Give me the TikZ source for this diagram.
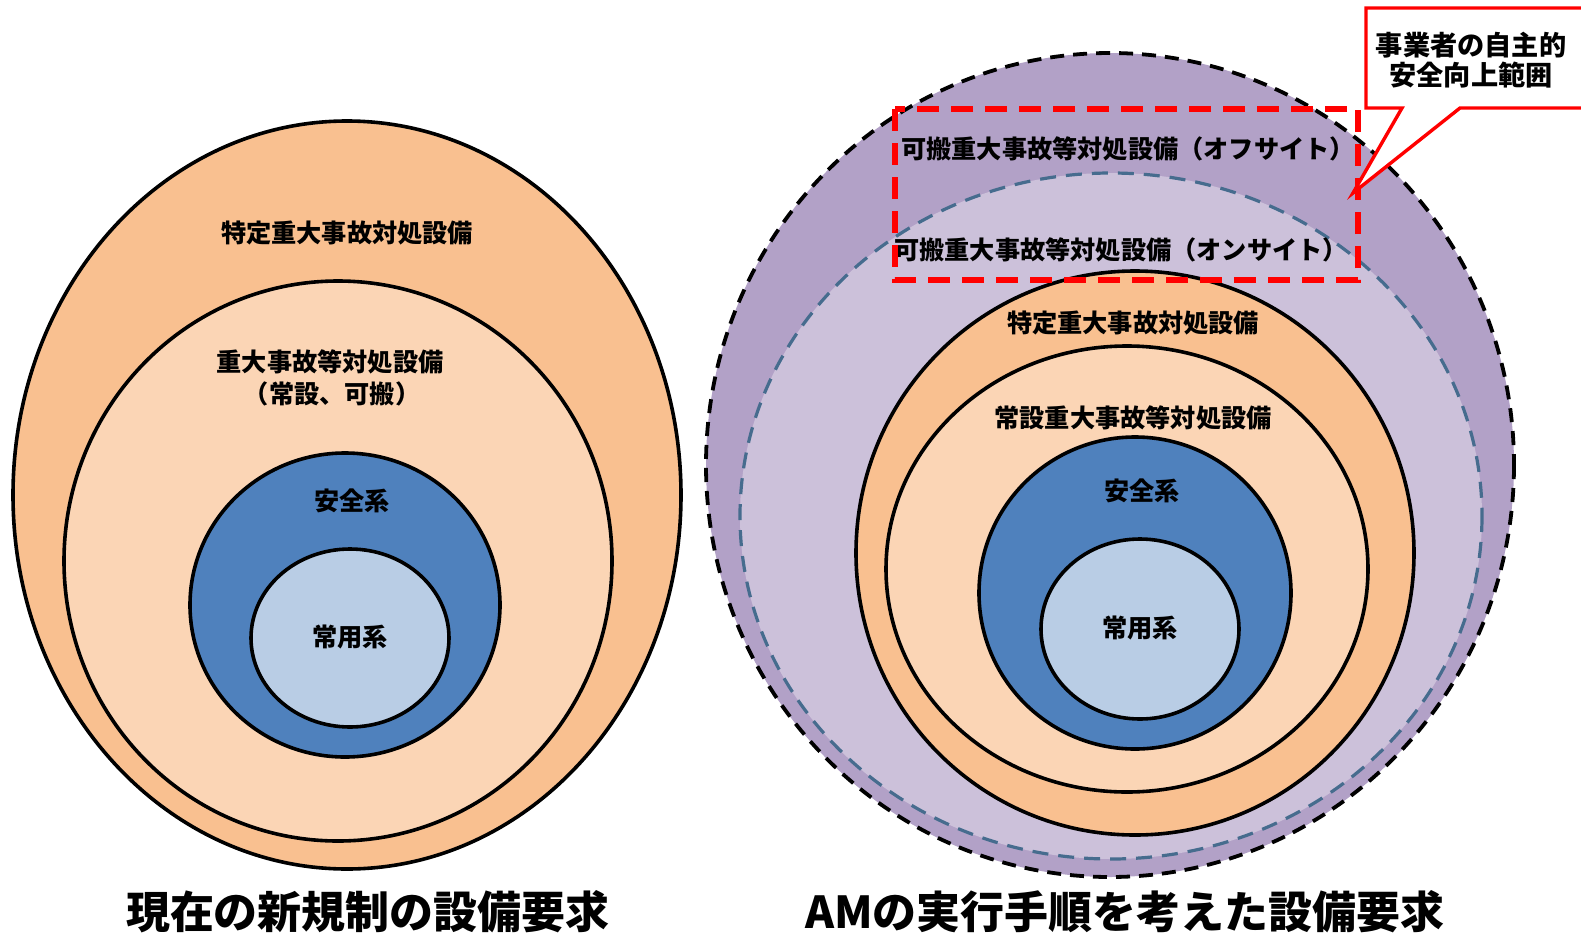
\documentclass[tikz,border=0pt]{standalone}
\usepackage{fontspec}
\newfontfamily\jp{Noto Sans CJK JP}
\definecolor{orA}{RGB}{249,192,144}
\definecolor{orB}{RGB}{251,213,181}
\definecolor{blA}{RGB}{79,129,189}
\definecolor{blB}{RGB}{185,205,229}
\definecolor{puA}{RGB}{178,161,199}
\definecolor{puB}{RGB}{204,193,218}
\definecolor{dashbl}{RGB}{70,108,142}
\tikzset{
  ring/.style={draw=black,line width=1.8pt},
  lbl/.style={font=\jp\bfseries\fontsize{12.6pt}{15pt}\selectfont,text=black,inner sep=0pt,align=center},
  ttl/.style={font=\jp\bfseries\fontsize{22pt}{26pt}\selectfont,text=black,inner sep=0pt},
  cal/.style={lbl,font=\jp\bfseries\fontsize{13.6pt}{15pt}\selectfont},
}
\begin{document}
\begin{tikzpicture}[x=0.5pt,y=-0.5pt]
\useasboundingbox[fill=white] (0,0) rectangle (1581,943);
% ---------- left ----------
\draw[ring,fill=orA] (347,495) ellipse [x radius=334,y radius=374];
\draw[ring,fill=orB] (338,561) ellipse [x radius=274,y radius=280];
\draw[ring,fill=blA] (345,605) ellipse [x radius=155,y radius=152];
\draw[ring,fill=blB] (350,638) ellipse [x radius=99,y radius=89];
\node[lbl] (l1) at (347,233) {特定重大事故対処設備};
\node[lbl] (l2) at (330,362) {重大事故等対処設備};
\node[lbl] (l3) at (332,394) {（常設、可搬）};
\node[lbl] (l4) at (352,501) {安全系};
\node[lbl] (l5) at (350,637) {常用系};
\node[ttl] (t1) at (368,912) {現在の新規制の設備要求};
% ---------- right ----------
\draw[draw=black,line width=1.9pt,dash pattern=on 7pt off 4.5pt,fill=puA] (1110,465) ellipse [x radius=404,y radius=412];
\draw[draw=dashbl,line width=1.6pt,dash pattern=on 8pt off 5pt,fill=puB] (1111,516) ellipse [x radius=371,y radius=343];
\draw[ring,fill=orA] (1135,553) ellipse [x radius=279,y radius=282];
\draw[ring,fill=orB] (1127,569) ellipse [x radius=241,y radius=223];
\draw[ring,fill=blA] (1135,593) ellipse [x radius=156,y radius=156];
\draw[ring,fill=blB] (1140,629) ellipse [x radius=99,y radius=90];
\node[lbl] (r1) at (1128,149) {可搬重大事故等対処設備（オフサイト）};
\node[lbl] (r2) at (1121,250) {可搬重大事故等対処設備（オンサイト）};
\node[lbl] (r3) at (1133,323) {特定重大事故対処設備};
\node[lbl] (r4) at (1133,418) {常設重大事故等対処設備};
\node[lbl] (r5) at (1142,491) {安全系};
\node[lbl] (r6) at (1140,628) {常用系};
\node[ttl] (t2) at (1125,912) {AMの実行手順を考えた設備要求};
% red dashed range
\draw[draw=red,line width=3pt,dash pattern=on 11pt off 6pt] (895,109) rectangle (1358,280);
\coordinate (tip) at (1353,193);
% callout
\draw[draw=red,line width=1.7pt,fill=white,line join=miter]
  (1366,8) -- (1600,8) -- (1600,108) -- (1460,108) -- (tip) -- (1402,108) -- (1366,108) -- cycle;
\node[cal] (c1) at (1471,45) {事業者の自主的};
\node[cal] (c2) at (1471,75) {安全向上範囲};
\end{tikzpicture}
\end{document}
